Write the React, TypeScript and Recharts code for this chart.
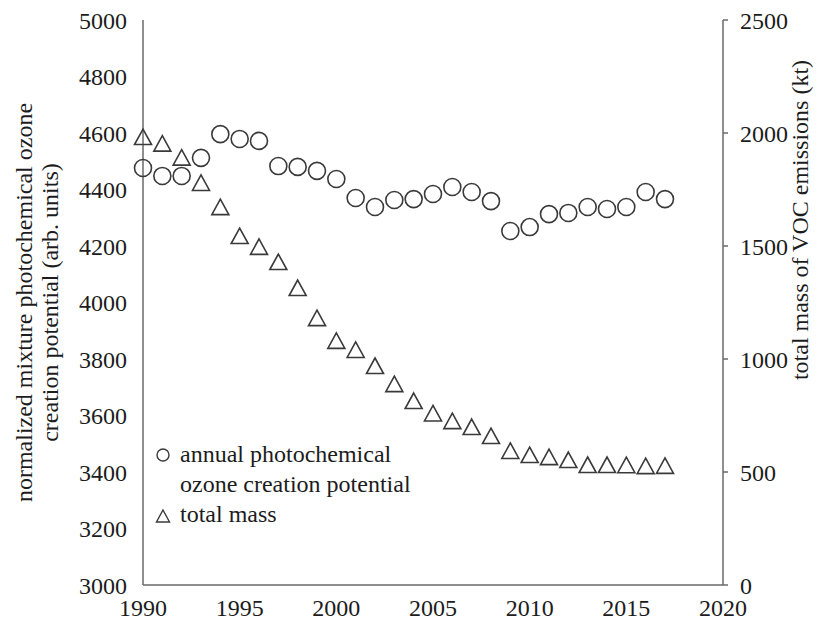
import { ComposedChart, Scatter, XAxis, YAxis, Legend } from 'recharts'

const years = [
    1990, 1991, 1992, 1993, 1994, 1995, 1996, 1997, 1998, 1999,
    2000, 2001, 2002, 2003, 2004, 2005, 2006, 2007, 2008, 2009,
    2010, 2011, 2012, 2013, 2014, 2015, 2016, 2017
]

// annual photochemical ozone creation potential (left axis, arb. units)
const pocp = [
    4476, 4448, 4448, 4512, 4596, 4579, 4572, 4483, 4480, 4466,
    4437, 4370, 4338, 4363, 4366, 4384, 4409, 4391, 4359, 4253,
    4267, 4313, 4317, 4338, 4331, 4338, 4391, 4366
]

// total mass of VOC emissions (right axis, kt)
const totalMass = [
    1982, 1953, 1891, 1779, 1672, 1544, 1496, 1429, 1314, 1181,
    1080, 1040, 969, 889, 814, 759, 725, 699, 659, 593,
    575, 566, 553, 531, 531, 530, 526, 527
]

const xTicks = [1990, 1995, 2000, 2005, 2010, 2015, 2020]
const leftTicks = [3000, 3200, 3400, 3600, 3800, 4000, 4200, 4400, 4600, 4800, 5000]
const rightTicks = [0, 500, 1000, 1500, 2000, 2500]

const rows = years.map((year, i) => ({ year, pocp: pocp[i], mass: totalMass[i] }))

const FONT = 'Liberation Serif, Times New Roman, DejaVu Serif, serif'
const INK = '#1c1c1c'
const AXIS = '#6a6a6a'
const MARK = '#3a3a3a'

const tickStyle = { fill: INK, fontSize: 24, fontFamily: FONT, style: { fontFamily: FONT } }
const textStyle = { fontFamily: FONT }

function CircleMark(props: any) {
    const { cx, cy } = props
    if (cx == null || cy == null) return null
    return <circle cx={cx} cy={cy} r={8.5} fill="none" stroke={MARK} strokeWidth={1.6} />
}

function TriangleMark(props: any) {
    const { cx, cy } = props
    if (cx == null || cy == null) return null
    const d = `M${cx},${cy - 8} L${cx + 8.5},${cy + 7.5} L${cx - 8.5},${cy + 7.5} Z`
    return <path d={d} fill="none" stroke={MARK} strokeWidth={1.6} strokeLinejoin="miter" />
}

function LegendBox() {
    return (
        <svg width={300} height={110} style={{ display: 'block' }}>
            <g fontSize={24} fill={INK} style={textStyle}>
                <circle cx={23} cy={25} r={6} fill="none" stroke={MARK} strokeWidth={1.4} />
                <text x={40} y={32}>annual photochemical</text>
                <text x={40} y={62}>ozone creation potential</text>
                <path d="M23,80 L29.5,92 L16.5,92 Z" fill="none" stroke={MARK} strokeWidth={1.4} />
                <text x={40} y={92}>total mass</text>
            </g>
        </svg>
    )
}

function LeftTitle(props: any) {
    const { viewBox } = props
    const cy = viewBox.y + viewBox.height / 2
    return (
        <text fontSize={24} fill={INK} textAnchor="middle" style={textStyle}
            transform={`rotate(-90, 0, ${cy})`}>
            <tspan x={0} y={cy + 32}>normalized mixture photochemical ozone</tspan>
            <tspan x={0} y={cy + 58}>creation potential (arb. units)</tspan>
        </text>
    )
}

function RightTitle(props: any) {
    const { viewBox } = props
    const x = viewBox.x + 85
    const cy = 220
    return (
        <text x={x} y={cy} fontSize={24} fill={INK} textAnchor="middle" style={textStyle}
            transform={`rotate(-90, ${x}, ${cy})`}>
            total mass of VOC emissions (kt)
        </text>
    )
}

export default function App() {
    return (
        <div style={{ position: 'absolute', left: 0, top: 0, background: '#fff', fontFamily: FONT }}>
            <ComposedChart width={821} height={620} data={rows}
                margin={{ top: 20, right: 0, bottom: 0, left: 0 }}>
                <XAxis
                    dataKey="year"
                    type="number"
                    domain={[1990, 2020]}
                    ticks={xTicks}
                    height={35}
                    stroke={AXIS}
                    strokeWidth={1.5}
                    tickLine={false}
                    tickSize={0}
                    tickMargin={14}
                    tick={tickStyle}
                    interval={0}
                />
                <YAxis
                    yAxisId="left"
                    orientation="left"
                    domain={[3000, 5000]}
                    ticks={leftTicks}
                    width={143}
                    stroke={AXIS}
                    strokeWidth={1.5}
                    tickLine={false}
                    tickSize={0}
                    tickMargin={16}
                    tick={tickStyle}
                    interval={0}
                    label={<LeftTitle />}
                />
                <YAxis
                    yAxisId="right"
                    orientation="right"
                    domain={[0, 2500]}
                    ticks={rightTicks}
                    width={98}
                    stroke={AXIS}
                    strokeWidth={1.5}
                    tickSize={5}
                    tickMargin={12}
                    tick={tickStyle}
                    interval={0}
                    label={<RightTitle />}
                />
                <Legend
                    layout="horizontal"
                    verticalAlign="middle"
                    align="center"
                    content={() => <LegendBox />}
                    wrapperStyle={{ left: 140, top: 430, width: 300, height: 110 }}
                />
                <Scatter
                    name="annual photochemical ozone creation potential"
                    dataKey="pocp"
                    yAxisId="left"
                    shape={<CircleMark />}
                    isAnimationActive={false}
                />
                <Scatter
                    name="total mass"
                    dataKey="mass"
                    yAxisId="right"
                    shape={<TriangleMark />}
                    isAnimationActive={false}
                />
            </ComposedChart>
        </div>
    )
}
